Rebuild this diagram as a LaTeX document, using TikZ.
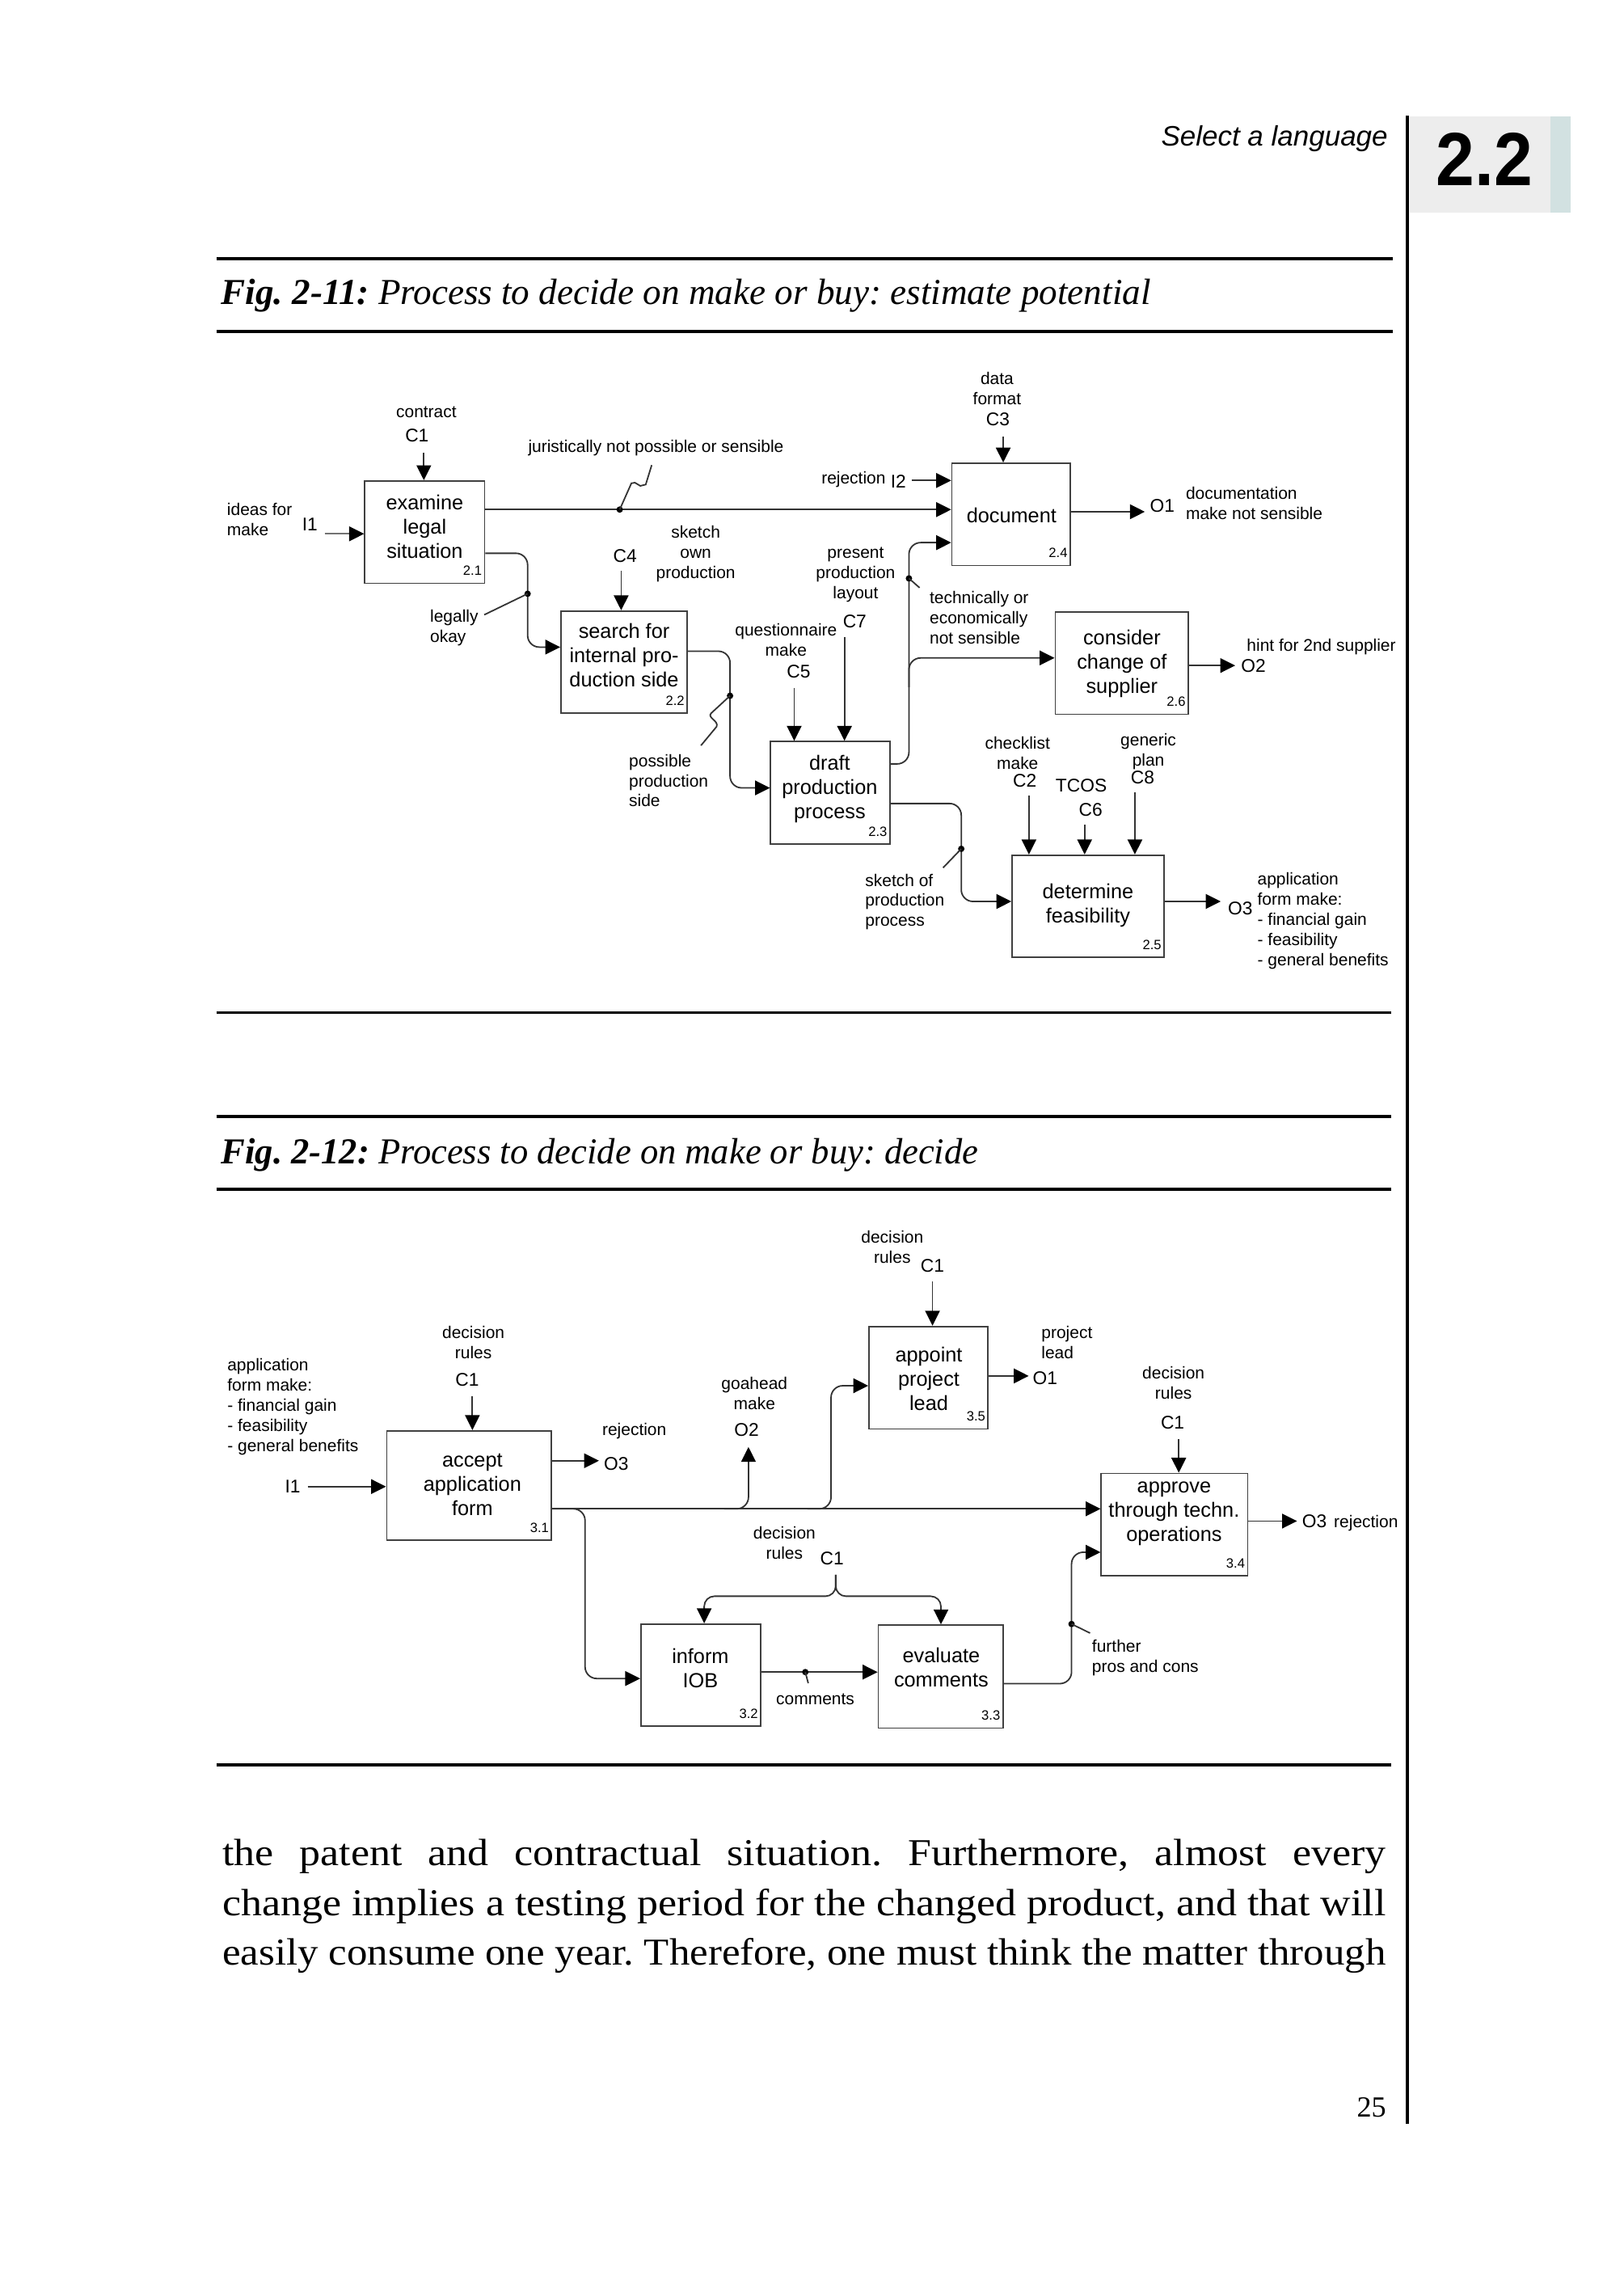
\documentclass[tikz,border=0pt]{standalone}
\usepackage{fontspec}
\usepackage{graphicx}
\setmainfont{Liberation Serif}
\setsansfont{Liberation Sans}
\usetikzlibrary{arrows.meta}
\definecolor{tabgray}{HTML}{EDEDED}
\definecolor{tabstrip}{HTML}{D2E1E1}
\frenchspacing
\tikzset{
 pbox/.style={draw=black!75, line width=0.5pt, inner sep=0pt},
 btext/.style={font=\sffamily\fontsize{7}{8.3}\selectfont, align=center, inner sep=0pt},
 lab/.style={font=\sffamily\fontsize{5.8}{6.9}\selectfont, align=center, inner sep=0pt},
 labl/.style={lab, align=left, anchor=west},
 icom/.style={font=\sffamily\fontsize{6.3}{7}\selectfont, inner sep=0pt},
 num/.style={font=\sffamily\fontsize{4.6}{5}\selectfont, inner sep=0pt, anchor=south east, xshift=-1pt, yshift=2.7pt},
 arr/.style={draw=black!80, line width=0.5pt, -{Triangle[length=5.1pt,width=5pt,color=black]}},
 ln/.style={draw=black!80, line width=0.5pt},
 rc/.style={rounded corners=4pt},
 rulel/.style={line width=1pt, black},
}
\begin{document}
\begin{tikzpicture}[x=0.5pt,y=-0.5pt]
\useasboundingbox (0,0) rectangle (1111,1568);
\fill[white] (0,0) rectangle (1111,1568);

% ---------- page furniture ----------
\draw[line width=1.1pt] (962.8,79.3) -- (962.8,1453.2);
\fill[tabgray] (964.5,79.9) rectangle (1061,145.4);
\fill[tabstrip] (1061,79.9) rectangle (1074.7,145.4);
\node[inner sep=0] (sec) at (1015.7,108.9) {\resizebox{33pt}{\height}{\sffamily\bfseries\fontsize{25.8}{28}\selectfont 2.2}};
\node[anchor=base east, inner sep=0] (hdr) at (949.9,99.6) {\resizebox{77.5pt}{\height}{\sffamily\itshape\fontsize{9.6}{11}\selectfont Select a language}};

\draw[rulel] (148,177.1) -- (953,177.1);
\draw[rulel] (148,226.9) -- (953,226.9);
\draw[rulel] (148,692.7) -- (952,692.7);
\draw[rulel] (148,763.7) -- (952,763.7);
\draw[rulel] (148,813.5) -- (952,813.5);
\draw[rulel] (148,1207.4) -- (952,1207.4);

\node[anchor=base west, inner sep=0] (t1) at (151,208.5) {\resizebox{318pt}{\height}{\fontsize{12.5}{15}\selectfont\textbf{\textit{Fig. 2-11:}} \textit{Process to decide on make or buy: estimate potential}}};
\node[anchor=base west, inner sep=0] (t2) at (151,796) {\resizebox{259pt}{\height}{\fontsize{12.5}{15}\selectfont\textbf{\textit{Fig. 2-12:}} \textit{Process to decide on make or buy: decide}}};

% ---------- Fig 2-11 boxes ----------
\node[pbox, minimum width=41pt, minimum height=35pt] (b21) at (290.6,364) {};
\node[pbox, minimum width=43.2pt, minimum height=35pt] (b22) at (427,453) {};
\node[pbox, minimum width=40.8pt, minimum height=35pt] (b23) at (568.1,542.3) {};
\node[pbox, minimum width=40.5pt, minimum height=35pt] (b24) at (691.8,351.9) {};
\node[pbox, minimum width=45.5pt, minimum height=35pt] (b26) at (767.5,453.7) {};
\node[pbox, minimum width=52pt, minimum height=35pt] (b25) at (744.5,620) {};

\node[btext] (b21t) at (290.6,360.4) {examine\\legal\\situation};
\node[btext] (b22t) at (427,448) {search for\\internal pro-\\duction side};
\node[btext] (b23t) at (567.7,539.6) {draft\\production\\process};
\node[btext] (b24t) at (692.1,352.7) {document};
\node[btext] (b26t) at (767.6,453.8) {consider\\change of\\supplier};
\node[btext] (b25t) at (744.4,619.4) {determine\\feasibility};

\node[num] (b21n) at (b21.south east) {2.1};
\node[num] (b22n) at (b22.south east) {2.2};
\node[num] (b23n) at (b23.south east) {2.3};
\node[num] (b24n) at (b24.south east) {2.4};
\node[num] (b26n) at (b26.south east) {2.6};
\node[num] (b25n) at (b25.south east) {2.5};

% C1 contract
\draw[arr] ([xshift=-0.3pt,yshift=9.5pt]b21.north) -- ([xshift=-0.3pt]b21.north);
% I1
\draw[arr, draw=black!55] ([xshift=-13.5pt,yshift=-0.6pt]b21.west) -- ([yshift=-0.6pt]b21.west);
% main: juristically not possible
\coordinate (m1) at ([yshift=7.7pt]b21.east);
\draw[arr] (m1) -- (m1 -| b24.west);
\coordinate (d1) at ([xshift=45.95pt]m1);
\fill (d1) circle[radius=1.1pt];
\draw[ln] (d1) -- (432,330.6) -- (434.4,330.2) -- (438.1,332.4) -- (441.8,331.5) -- (445.9,318.2);
% legally okay
\coordinate (o21b) at ([yshift=-7.25pt]b21.east);
\coordinate (i22) at ([yshift=5.15pt]b22.west);
\coordinate (v1) at ([xshift=14.45pt,yshift=-13.85pt]o21b);
\draw[arr, rc] (o21b) -| (v1) |- (i22);
\fill (v1) circle[radius=1.1pt];
\draw[ln] (v1) -- (331.3,420.6);
% C4
\draw[arr] ([xshift=-1pt,yshift=13.4pt]b22.north) -- ([xshift=-1pt]b22.north);
% possible production side
\coordinate (o22) at ([yshift=3.75pt]b22.east);
\coordinate (i23) at ([yshift=1.65pt]b23.west);
\coordinate (v2) at ([xshift=14.4pt,yshift=-15.25pt]o22);
\draw[arr, rc] (o22) -| (v2) |- (i23);
\fill (v2) circle[radius=1.1pt];
\draw[ln] (v2) -- (486.6,487.9) .. controls (483.5,491) and (492,493) .. (490.3,497.1) -- (479.6,510);
% C5, C7
\draw[arr] ([xshift=-12.35pt,yshift=18pt]b23.north) -- ([xshift=-12.35pt]b23.north);
\draw[arr] ([xshift=4.85pt,yshift=35.5pt]b23.north) -- ([xshift=4.85pt]b23.north);
% technically or economically not sensible
\coordinate (o23a) at ([yshift=9.85pt]b23.east);
\coordinate (i24c) at ([yshift=-9.65pt]b24.west);
\coordinate (v3) at ([xshift=6.25pt,yshift=63.45pt]o23a);
\draw[arr, rc] (o23a) -| (v3) |- (i24c);
\fill (v3) circle[radius=1.1pt];
\draw[ln] (v3) -- (629.2,402.1);
\coordinate (v3b) at ([yshift=-37.15pt]v3);
\coordinate (i26) at ([yshift=1.8pt]b26.west);
\draw[arr, rc] (v3b) |- (i26);
% I2 rejection
\draw[arr] ([xshift=-13.6pt,yshift=11.6pt]b24.west) -- ([yshift=11.6pt]b24.west);
% C3
\draw[arr] ([xshift=-2.7pt,yshift=9pt]b24.north) -- ([xshift=-2.7pt]b24.north);
% O1
\draw[arr] ([yshift=0.9pt]b24.east) -- ([xshift=25.25pt,yshift=0.9pt]b24.east);
% O2
\draw[arr] ([yshift=-0.8pt]b26.east) -- ([xshift=15.8pt,yshift=-0.8pt]b26.east);
% sketch of production process
\coordinate (o23b) at ([yshift=-3.7pt]b23.east);
\coordinate (i25) at ([yshift=1.65pt]b25.west);
\coordinate (v7) at ([xshift=24.15pt,yshift=-15.5pt]o23b);
\draw[arr, rc] (o23b) -| (v7) |- (i25);
\fill (v7) circle[radius=1.1pt];
\draw[ln] (v7) -- (645.3,593.6);
% C2, C6, C8
\draw[arr] ([xshift=-20.25pt,yshift=20pt]b25.north) -- ([xshift=-20.25pt]b25.north);
\draw[arr] ([xshift=-1.2pt,yshift=10.3pt]b25.north) -- ([xshift=-1.2pt]b25.north);
\draw[arr] ([xshift=16pt,yshift=21.2pt]b25.north) -- ([xshift=16pt]b25.north);
% O3
\draw[arr] ([yshift=1.65pt]b25.east) -- ([xshift=19.1pt,yshift=1.65pt]b25.east);

% labels Fig 2-11
\node[lab] (l1) at (291.7,281.9) {contract};
\node[icom] (l2) at (285.3,297.9) {C1};
\node[lab] (l3) at (448.8,306.6) {juristically not possible or sensible};
\node[lab] (l4) at (584,328) {rejection};
\node[icom] (l5) at (614.7,329.5) {I2};
\node[labl] (l6) at (155,355.5) {ideas for\\make};
\node[icom] (l7) at (212,359) {I1};
\node[lab] (l8) at (476,379) {sketch\\own\\production};
\node[icom] (l9) at (427.6,380.5) {C4};
\node[lab] (l10) at (585.4,393.1) {present\\production\\layout};
\node[labl] (l11) at (293.9,429.3) {legally\\okay};
\node[lab] (l12) at (537.8,437.6) {questionnaire\\make};
\node[icom] (l13) at (546.4,459.3) {C5};
\node[icom] (l14) at (584.8,425.2) {C7};
\node[labl] (l15) at (635.7,422.7) {technically or\\economically\\not sensible};
\node[lab] (l16) at (682.2,266) {data\\format};
\node[icom] (l16b) at (682.8,286.8) {C3};
\node[icom] (l17) at (795.2,345.9) {O1};
\node[labl] (l18) at (811,344.2) {documentation\\make not sensible};
\node[labl] (l19) at (852.7,442.3) {hint for 2nd supplier};
\node[icom] (l20) at (857.6,455.3) {O2};
\node[labl] (l21) at (430,534) {possible\\production\\side};
\node[lab] (l22) at (696.2,515.1) {checklist\\make};
\node[icom] (l23) at (701.1,534) {C2};
\node[icom] (l24) at (739.8,537.2) {TCOS};
\node[icom] (l25) at (746.2,553.8) {C6};
\node[lab] (l26) at (785.7,513.9) {generic\\plan};
\node[icom] (l27) at (781.8,531.8) {C8};
\node[labl] (l28) at (591.6,617) {sketch of\\production\\process};
\node[icom] (l29) at (848.6,621.3) {O3};
\node[labl] (l30) at (860,630) {application\\form make:\\- financial gain\\- feasibility\\- general benefits};

% ---------- Fig 2-12 boxes ----------
\node[pbox, minimum width=56.4pt, minimum height=37.5pt] (b31) at (321,1016.3) {};
\node[pbox, minimum width=40.75pt, minimum height=35.1pt] (b35) at (635.3,942.5) {};
\node[pbox, minimum width=41pt, minimum height=35pt] (b32) at (479.5,1146) {};
\node[pbox, minimum width=42.65pt, minimum height=35.25pt] (b33) at (643.6,1147) {};
\node[pbox, minimum width=50.1pt, minimum height=35pt] (b34) at (803.6,1043) {};

\node[btext] (b31t) at (323.2,1015.5) {accept\\application\\form};
\node[btext] (b35t) at (635.5,943) {appoint\\project\\lead};
\node[btext] (b32t) at (479.2,1141.3) {inform\\IOB};
\node[btext] (b33t) at (644,1140.5) {evaluate\\comments};
\node[btext] (b34t) at (803.3,1035.6) {approve\\through techn.\\operations};

\node[num] (b31n) at (b31.south east) {3.1};
\node[num] (b35n) at (b35.south east) {3.5};
\node[num] (b32n) at (b32.south east) {3.2};
\node[num] (b33n) at (b33.south east) {3.3};
\node[num] (b34n) at (b34.south east) {3.4};

% b31
\draw[arr] ([xshift=1.1pt,yshift=11.55pt]b31.north) -- ([xshift=1.1pt]b31.north);
\draw[arr] ([xshift=-26.8pt,yshift=-0.35pt]b31.west) -- ([yshift=-0.35pt]b31.west);
\draw[arr] ([yshift=8.5pt]b31.east) -- ([xshift=15.95pt,yshift=8.5pt]b31.east);
\coordinate (m2) at ([yshift=-7.95pt]b31.east);
\draw[arr] (m2) -- (m2 -| b34.west);
\coordinate (g0) at ([xshift=58.8pt]m2);
\draw[arr, rc] (g0) -| ([xshift=8.3pt,yshift=21.15pt]g0);
\coordinate (g2) at ([xshift=87.3pt]m2);
\coordinate (i35) at ([yshift=-2.75pt]b35.west);
\draw[arr, rc] (g2) -| ([xshift=8.05pt,yshift=20pt]g2) |- (i35);
\coordinate (i32) at ([yshift=-1.15pt]b32.west);
\draw[arr, rc] (m2) -| ([xshift=11.2pt,yshift=-30pt]m2) |- (i32);
% b35
\draw[arr] ([xshift=1.35pt,yshift=15.2pt]b35.north) -- ([xshift=1.35pt]b35.north);
\draw[arr] ([yshift=0.6pt]b35.east) -- ([xshift=13.65pt,yshift=0.6pt]b35.east);
% C1 brace to b32 and b33
\coordinate (c1m) at (571.8,1077.3);
\draw[arr, rounded corners=3.5pt] (c1m) -- ++(0,14.7) -| ([xshift=1.15pt]b32.north);
\draw[arr, rounded corners=3.5pt] (c1m) -- ++(0,14.7) -| ([xshift=0.1pt]b33.north);
% b32 -> b33
\coordinate (o32) at ([yshift=1.05pt]b32.east);
\draw[arr] (o32) -- (o32 -| b33.west);
\coordinate (d3) at ([xshift=15pt]o32);
\fill (d3) circle[radius=1.1pt];
\draw[ln] (d3) -- (553,1151.5);
% b33 -> b34
\coordinate (o33) at ([yshift=-2.4pt]b33.east);
\coordinate (i34b) at ([yshift=-9.45pt]b34.west);
\coordinate (v6) at ([xshift=23.2pt,yshift=20.4pt]o33);
\draw[arr, rc] (o33) -| (v6) |- (i34b);
\fill (v6) circle[radius=1.1pt];
\draw[ln] (v6) -- (745.8,1117.2);
% b34
\draw[arr] ([xshift=1.45pt,yshift=11.5pt]b34.north) -- ([xshift=1.45pt]b34.north);
\draw[arr] ([yshift=1.2pt]b34.east) -- ([xshift=16.6pt,yshift=1.2pt]b34.east);

% labels Fig 2-12
\node[lab] (k1) at (610.5,853) {decision\\rules};
\node[icom] (k2) at (638,866) {C1};
\node[labl] (k3) at (712.2,918.4) {project\\lead};
\node[icom] (k4) at (715.1,942.6) {O1};
\node[lab] (k5) at (323.9,918.4) {decision\\rules};
\node[icom] (k6) at (319.7,944) {C1};
\node[labl] (k7) at (155.2,962.5) {application\\form make:\\- financial gain\\- feasibility\\- general benefits};
\node[icom] (k8) at (200.3,1017) {I1};
\node[lab] (k9) at (434,979.1) {rejection};
\node[icom] (k10) at (421.6,1001.3) {O3};
\node[lab] (k11) at (516.2,953.2) {goahead\\make};
\node[icom] (k12) at (510.8,978.3) {O2};
\node[lab] (k13) at (802.9,946.2) {decision\\rules};
\node[icom] (k14) at (802.3,973.3) {C1};
\node[icom] (k15) at (899.3,1040.6) {O3};
\node[labl] (k16) at (912.3,1041.9) {rejection};
\node[lab] (k17) at (536.7,1055.5) {decision\\rules};
\node[icom] (k18) at (569.2,1065.9) {C1};
\node[lab] (k19) at (557.8,1162.4) {comments};
\node[labl] (k20) at (746.8,1134.3) {further\\pros and cons};

% ---------- body text ----------
\node[anchor=base west, inner sep=0] (p1) at (151.8,1276.5) {\resizebox{398pt}{\height}{\fontsize{13}{16}\selectfont\makebox[360pt][s]{the patent and contractual situation. Furthermore, almost every}}};
\node[anchor=base west, inner sep=0] (p2) at (151.8,1310.5) {\resizebox{398pt}{\height}{\fontsize{13}{16}\selectfont change implies a testing period for the changed product, and that will}};
\node[anchor=base west, inner sep=0] (p3) at (151.8,1344.5) {\resizebox{398pt}{\height}{\fontsize{13}{16}\selectfont easily consume one year. Therefore, one must think the matter through}};
\node[anchor=base east, inner sep=0] (pg) at (948.8,1448) {\fontsize{10}{12}\selectfont 25};
\end{tikzpicture}
\end{document}
